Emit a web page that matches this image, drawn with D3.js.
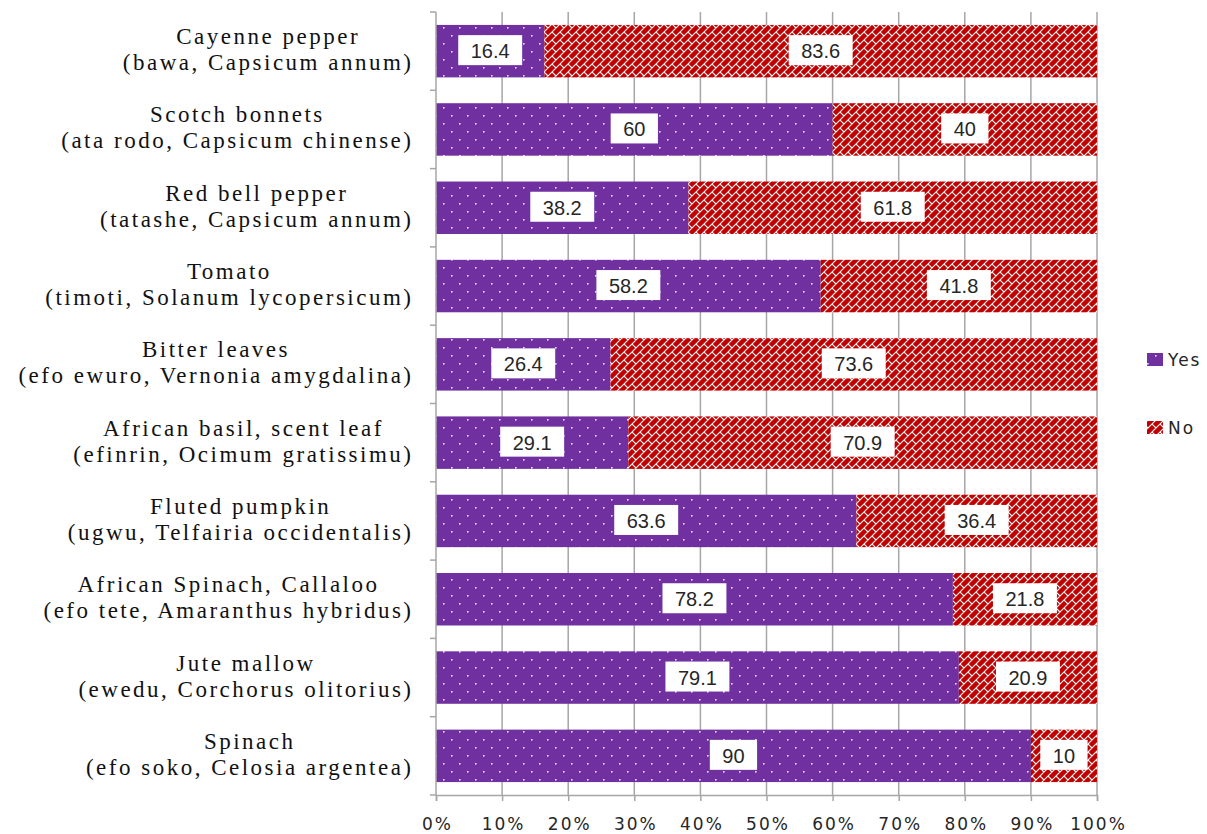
<!DOCTYPE html>
<html><head><meta charset="utf-8">
<script src="https://cdn.jsdelivr.net/npm/d3@7"></script>
<style>body{margin:0;background:#fff}</style>
</head><body><svg id="c" width="1207" height="834"></svg>
<script>
const labelsTop = ["Cayenne pepper","Scotch bonnets","Red bell pepper","Tomato","Bitter leaves","African basil, scent leaf","Fluted pumpkin","African Spinach, Callaloo","Jute mallow","Spinach"];
const labelsBottom = ["(bawa, Capsicum annum)","(ata rodo, Capsicum chinense)","(tatashe, Capsicum annum)","(timoti, Solanum lycopersicum)","(efo ewuro, Vernonia amygdalina)","(efinrin, Ocimum gratissimu)","(ugwu, Telfairia occidentalis)","(efo tete, Amaranthus hybridus)","(ewedu, Corchorus olitorius)","(efo soko, Celosia argentea)"];
const yesValues = [16.4,60,38.2,58.2,26.4,29.1,63.6,78.2,79.1,90];
const noValues = [83.6,40,61.8,41.8,73.6,70.9,36.4,21.8,20.9,10];
const tickValues = [0,0.1,0.2,0.3,0.4,0.5,0.6,0.7,0.8,0.9,1];
const seriesNames = ["Yes","No"];

(function(){
const svg = d3.select("#c");
const defs = svg.append("defs");
const pY = defs.append("pattern").attr("id","pYes").attr("patternUnits","userSpaceOnUse").attr("width",16).attr("height",16);
pY.append("rect").attr("width",16).attr("height",16).attr("fill","#7030A0");
pY.append("rect").attr("x",3).attr("y",3).attr("width",1.6).attr("height",1.6).attr("fill","#eadcf5");
pY.append("rect").attr("x",11).attr("y",11).attr("width",1.6).attr("height",1.6).attr("fill","#eadcf5");
const pN = defs.append("pattern").attr("id","pNo").attr("patternUnits","userSpaceOnUse").attr("width",8).attr("height",8);
pN.append("rect").attr("width",8).attr("height",8).attr("fill","#C00000");
pN.append("path").attr("d","M-1,9 L9,-1 M-1,1 L1,-1 M7,9 L9,7 M0,0 L4,4").attr("stroke","#fff").attr("stroke-width",1.1);

const pl = 436, pr = 1097, pt = 12, pb = 795;
const x = d3.scaleLinear().domain([0,1]).range([pl,pr]);
const y = d3.scaleBand().domain(d3.range(labelsTop.length)).range([pt,pb]).paddingInner(0.33).paddingOuter(0.165);
const yb = d3.scaleBand().domain(d3.range(labelsTop.length)).range([pt,pb]);

svg.append("g").selectAll("line").data(tickValues.slice(1)).join("line")
  .attr("x1",d=>x(d)).attr("x2",d=>x(d)).attr("y1",pt).attr("y2",pb)
  .attr("stroke","#a6a6a6").attr("stroke-width",1.5);

const rows = labelsTop.map((t,i)=>({i, yes:yesValues[i], no:noValues[i]}));
const g = svg.append("g");
g.selectAll("rect.yes").data(rows).join("rect").attr("class","yes")
  .attr("x",x(0)).attr("y",d=>y(d.i)).attr("width",d=>x(d.yes/100)-x(0)).attr("height",y.bandwidth())
  .attr("fill","url(#pYes)");
g.selectAll("rect.no").data(rows).join("rect").attr("class","no")
  .attr("x",d=>x(d.yes/100)).attr("y",d=>y(d.i)).attr("width",d=>x((d.yes+d.no)/100)-x(d.yes/100)).attr("height",y.bandwidth())
  .attr("fill","url(#pNo)");

const lg = svg.append("g");
function addLabel(cx, cy, txt){
  const r = lg.append("rect");
  const t = lg.append("text").attr("x",cx).attr("y",cy+7).attr("text-anchor","middle")
    .attr("font-family","'Liberation Sans Narrow','Liberation Sans',Arial,sans-serif").attr("font-size",20).attr("fill","#262626").text(txt);
  const bb = t.node().getBBox();
  r.attr("x",cx-bb.width/2-12.5).attr("y",cy-16).attr("width",bb.width+25).attr("height",30).attr("fill","#fff");
}
rows.forEach(d=>{
  const cy = y(d.i)+y.bandwidth()/2;
  addLabel((x(0)+x(d.yes/100))/2, cy, String(d.yes));
  addLabel((x(d.yes/100)+x(1))/2, cy, String(d.no));
});

svg.append("line").attr("x1",pl).attr("x2",pl).attr("y1",pt).attr("y2",pb).attr("stroke","#a6a6a6").attr("stroke-width",1.5);
svg.append("g").selectAll("line").data(d3.range(labelsTop.length+1)).join("line")
  .attr("x1",pl-6).attr("x2",pl).attr("y1",d=>pt+d*yb.step()).attr("y2",d=>pt+d*yb.step())
  .attr("stroke","#a6a6a6").attr("stroke-width",1.5);

const ax = svg.append("g").attr("transform",`translate(0,${pb})`)
  .call(d3.axisBottom(x).tickValues(tickValues).tickFormat(d3.format(".0%")).tickSize(6).tickPadding(0));
ax.select(".domain").attr("stroke","#a6a6a6").attr("stroke-width",1.5);
ax.selectAll(".tick line").attr("stroke","#a6a6a6").attr("stroke-width",1.5);
ax.selectAll(".tick text").attr("font-family","'DejaVu Sans',sans-serif").attr("font-size",17).attr("fill","#262626")
  .attr("dy",null).attr("y",35).attr("letter-spacing",2).attr("dx",1);

// category labels: lines centered within a block right-aligned to the axis
const LS = 2.5, rightEdge = 411;
const lab = svg.append("g").attr("font-family","'Liberation Serif','Times New Roman',serif").attr("font-size",23).attr("fill","#111").attr("letter-spacing",LS);
rows.forEach(d=>{
  const cy = yb(d.i)+yb.bandwidth()/2;
  const t1 = lab.append("text").attr("y",cy-7).text(labelsTop[d.i]);
  const t2 = lab.append("text").attr("y",cy+19).text(labelsBottom[d.i]);
  const w1 = t1.node().getComputedTextLength()-LS, w2 = t2.node().getComputedTextLength()-LS;
  const cx = rightEdge - Math.max(w1,w2)/2;
  t1.attr("x",cx-w1/2); t2.attr("x",cx-w2/2);
});

const leg = svg.append("g");
seriesNames.forEach((s,i)=>{
  const ly = 360 + i*68;
  leg.append("rect").attr("x",1147).attr("y",ly-7).attr("width",16).attr("height",13).attr("fill", i===0?"url(#pYes)":"url(#pNo)");
  leg.append("text").attr("x",1168).attr("y",ly+6).attr("font-family","'DejaVu Sans',sans-serif").attr("font-size",17).attr("letter-spacing",2).attr("fill","#262626").text(s);
});
})();
</script></body></html>
